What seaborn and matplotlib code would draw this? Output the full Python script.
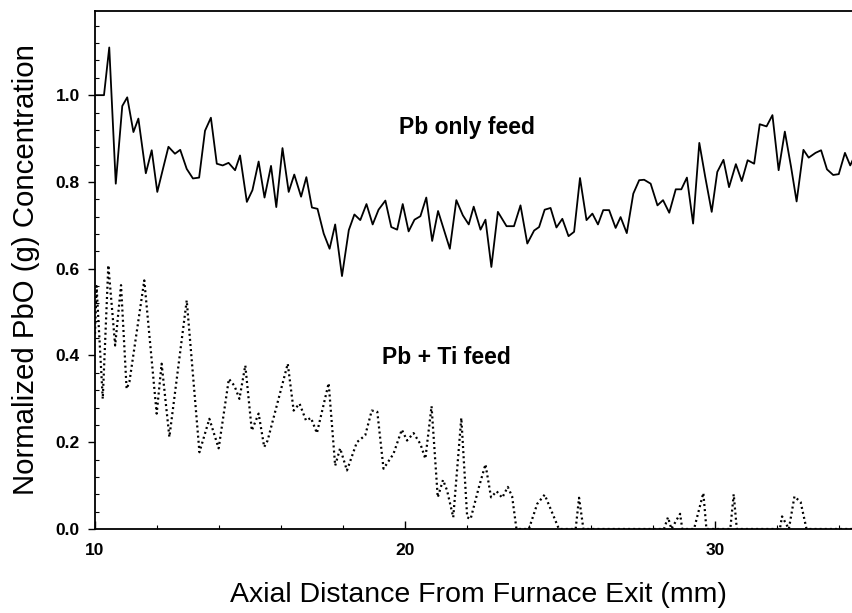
import matplotlib
matplotlib.use("Agg")
import matplotlib.pyplot as plt
import seaborn as sns
import pandas as pd
from matplotlib.ticker import MultipleLocator, FormatStrFormatter

# axial distance (mm) and normalized PbO(g) concentration
pb_only_x = [10.0, 10.29, 10.46, 10.67, 10.88, 11.04, 11.24, 11.40, 11.64, 11.83,
             12.01, 12.21, 12.37, 12.58, 12.75, 12.96, 13.16, 13.36, 13.55, 13.74,
             13.93, 14.12, 14.31, 14.52, 14.68, 14.90, 15.08, 15.28, 15.47, 15.68,
             15.85, 16.05, 16.25, 16.43, 16.65, 16.82, 17.00, 17.18, 17.38, 17.57,
             17.75, 17.97, 18.19, 18.37, 18.56, 18.76, 18.96, 19.15, 19.37, 19.56,
             19.75, 19.93, 20.12, 20.31, 20.50, 20.69, 20.88, 21.07, 21.45, 21.66,
             21.87, 22.06, 22.22, 22.44, 22.60, 22.79, 23.00, 23.28, 23.52, 23.73,
             23.95, 24.17, 24.33, 24.51, 24.70, 24.89, 25.08, 25.28, 25.46, 25.65,
             25.86, 26.05, 26.23, 26.40, 26.59, 26.80, 26.96, 27.16, 27.37, 27.56,
             27.72, 27.93, 28.15, 28.33, 28.53, 28.74, 28.92, 29.10, 29.30, 29.50,
             29.69, 29.90, 30.08, 30.28, 30.46, 30.68, 30.87, 31.06, 31.27, 31.45,
             31.67, 31.86, 32.06, 32.26, 32.46, 32.64, 32.86, 33.03, 33.25, 33.43,
             33.62, 33.82, 34.00, 34.20, 34.37, 34.50]
pb_only_y = [1.00, 1.00, 1.11, 0.796, 0.975, 0.995, 0.915, 0.946, 0.82, 0.873,
             0.777, 0.835, 0.881, 0.865, 0.874, 0.83, 0.808, 0.81, 0.918, 0.948,
             0.842, 0.838, 0.844, 0.827, 0.861, 0.754, 0.781, 0.847, 0.764, 0.837,
             0.742, 0.878, 0.777, 0.817, 0.766, 0.811, 0.741, 0.738, 0.681, 0.646,
             0.702, 0.583, 0.689, 0.725, 0.712, 0.749, 0.702, 0.736, 0.757, 0.696,
             0.69, 0.749, 0.686, 0.713, 0.721, 0.764, 0.664, 0.733, 0.646, 0.758,
             0.723, 0.702, 0.743, 0.69, 0.713, 0.604, 0.731, 0.698, 0.698, 0.746,
             0.658, 0.688, 0.696, 0.736, 0.74, 0.695, 0.715, 0.675, 0.685, 0.809,
             0.712, 0.727, 0.702, 0.735, 0.735, 0.694, 0.719, 0.682, 0.773, 0.804,
             0.805, 0.796, 0.746, 0.758, 0.729, 0.783, 0.783, 0.81, 0.704, 0.89,
             0.812, 0.731, 0.823, 0.851, 0.788, 0.841, 0.802, 0.85, 0.842, 0.933,
             0.928, 0.954, 0.827, 0.916, 0.835, 0.755, 0.874, 0.856, 0.867, 0.873,
             0.829, 0.816, 0.818, 0.867, 0.838, 0.858]

pb_ti_x = [10.0, 10.05, 10.25, 10.43, 10.65, 10.84, 11.02, 11.11, 11.59, 11.99,
           12.15, 12.40, 12.96, 13.37, 13.69, 13.99, 14.32, 14.50, 14.66, 14.85,
           15.06, 15.28, 15.46, 15.57, 16.22, 16.41, 16.60, 16.81, 16.97, 17.16,
           17.54, 17.75, 17.91, 18.13, 18.45, 18.72, 18.93, 19.11, 19.31, 19.63,
           19.90, 20.07, 20.28, 20.50, 20.66, 20.86, 21.06, 21.23, 21.36, 21.56,
           21.82, 22.01, 22.12, 22.39, 22.60, 22.78, 22.96, 23.14, 23.32, 23.46,
           23.60, 24.00, 24.27, 24.51, 24.68, 24.97, 25.51, 25.62, 25.76, 28.36,
           28.49, 28.60, 28.88, 28.95, 29.33, 29.63, 29.73, 30.50, 30.61, 30.71,
           32.10, 32.17, 32.39, 32.57, 32.77, 32.96, 34.50]
pb_ti_y = [0.45, 0.56, 0.30, 0.608, 0.423, 0.562, 0.323, 0.339, 0.573, 0.266,
           0.381, 0.212, 0.527, 0.177, 0.254, 0.186, 0.346, 0.33, 0.30, 0.377,
           0.227, 0.266, 0.189, 0.204, 0.381, 0.273, 0.289, 0.25, 0.256, 0.221,
           0.336, 0.146, 0.186, 0.135, 0.2, 0.216, 0.273, 0.27, 0.139, 0.173,
           0.229, 0.204, 0.221, 0.196, 0.162, 0.283, 0.073, 0.113, 0.089, 0.027,
           0.256, 0.027, 0.023, 0.097, 0.149, 0.073, 0.087, 0.072, 0.097, 0.075,
           0.0, 0.0, 0.058, 0.079, 0.05, 0.0, 0.0, 0.072, 0.0, 0.0,
           0.027, 0.0, 0.035, 0.0, 0.0, 0.083, 0.0, 0.0, 0.08, 0.0,
           0.0, 0.029, 0.0, 0.075, 0.062, 0.0, 0.0]

assert len(pb_only_x) == len(pb_only_y), (len(pb_only_x), len(pb_only_y))
assert len(pb_ti_x) == len(pb_ti_y), (len(pb_ti_x), len(pb_ti_y))

sns.set_style("ticks")
plt.rcParams["font.family"] = ["Liberation Sans", "DejaVu Sans"]
plt.rcParams["text.color"] = "black"
plt.rcParams["axes.labelcolor"] = "black"
plt.rcParams["xtick.color"] = "black"
plt.rcParams["ytick.color"] = "black"

fig = plt.figure(figsize=(8.53, 6.13), dpi=100)
# right spine sits just past the image edge, as in the cropped scan
ax = fig.add_axes([95 / 853, (613 - 529) / 613, (862 - 95) / 853, (529 - 11) / 613])

df_pb = pd.DataFrame({"x": pb_only_x, "y": pb_only_y})
df_ti = pd.DataFrame({"x": pb_ti_x, "y": pb_ti_y})

sns.lineplot(data=df_pb, x="x", y="y", ax=ax, color="black", linewidth=1.3,
             estimator=None, sort=False)
sns.lineplot(data=df_ti, x="x", y="y", ax=ax, color="black", linewidth=1.6,
             linestyle=(0, (0.9, 1.4)), estimator=None, sort=False)

ax.set_xlim(10, 34.75)
ax.set_ylim(0, 1.194)

ax.xaxis.set_major_locator(MultipleLocator(10))
ax.xaxis.set_minor_locator(MultipleLocator(2))
ax.yaxis.set_major_locator(MultipleLocator(0.2))
ax.yaxis.set_minor_locator(MultipleLocator(0.04))
ax.yaxis.set_major_formatter(FormatStrFormatter("%.1f"))

ax.tick_params(axis="x", which="major", direction="in", length=6, width=1,
               pad=10, labelsize=12.5)
ax.tick_params(axis="x", which="minor", direction="in", length=3, width=0.8)
ax.tick_params(axis="y", which="major", direction="out", length=5, width=1,
               pad=6, labelsize=12.5)
ax.tick_params(axis="y", which="minor", direction="in", length=3, width=0.8)
for lab in ax.get_xticklabels() + ax.get_yticklabels():
    lab.set_fontweight("bold")

for side in ["left", "bottom", "top", "right"]:
    ax.spines[side].set_linewidth(1.3)
    ax.spines[side].set_color("black")

ax.set_xlabel("Axial Distance From Furnace Exit (mm)", fontsize=20.5)
ax.set_ylabel("Normalized PbO (g) Concentration", fontsize=21.2)
ax.xaxis.set_label_coords(0.5, -0.102)
ax.yaxis.set_label_coords(-0.072, 0.5)

ax.text(21.99, 0.926, "Pb only feed", fontsize=16.5, fontweight="bold",
        ha="center", va="center")
ax.text(21.34, 0.396, "Pb + Ti feed", fontsize=16.5, fontweight="bold",
        ha="center", va="center")

fig.savefig("out.png", dpi=100)
